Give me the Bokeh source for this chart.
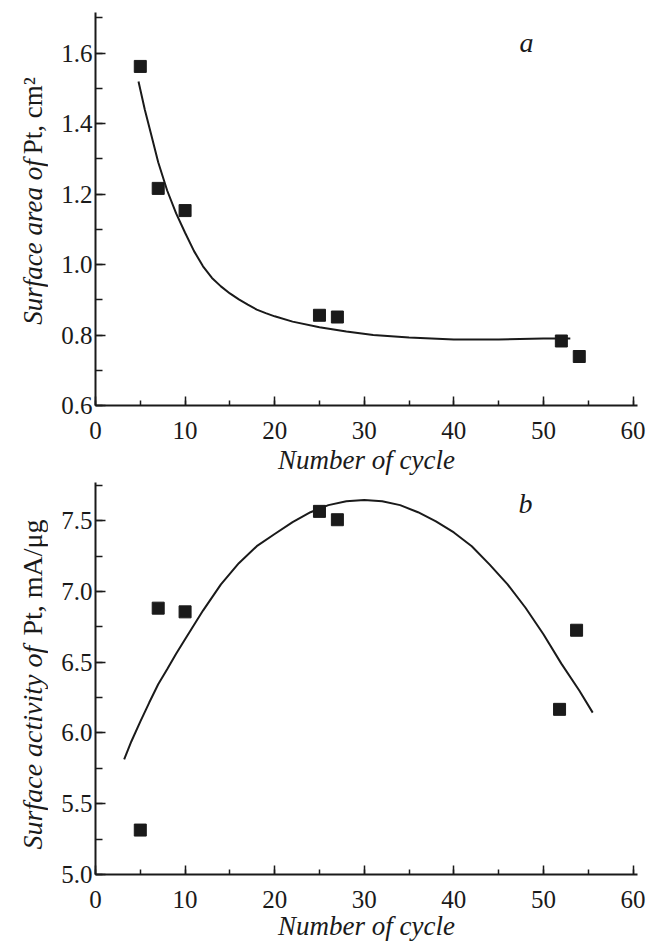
import math
from bokeh.plotting import figure
from bokeh.layouts import column, row
from bokeh.models import Range1d, SingleIntervalTicker, PrintfTickFormatter, Label
from bokeh.core.properties import value
from bokeh.embed import file_html
from bokeh.resources import INLINE

# ---------------- data ----------------
# Panel a: surface area of Pt
cycles_a = [5, 7, 10, 25, 27, 52, 54]
area_a = [1.562, 1.216, 1.153, 0.856, 0.851, 0.783, 0.739]
fit_a_x = [4.8, 5.5, 6.2, 7.0, 8.0, 9.0, 10.0, 11.0, 12.0, 13.0, 14.0, 15.0, 16.0, 17.0,
           18.0, 19.0, 20.0, 22.0, 25.0, 28.0, 31.0, 35.0, 40.0, 45.0, 50.0, 53.0]
fit_a_y = [1.519, 1.440, 1.370, 1.290, 1.210, 1.145, 1.090, 1.038, 0.995, 0.962, 0.938,
           0.918, 0.901, 0.886, 0.872, 0.862, 0.853, 0.838, 0.822, 0.810, 0.800, 0.793,
           0.787, 0.787, 0.790, 0.790]

# Panel b: surface activity of Pt
cycles_b = [5, 7, 10, 25, 27, 51.8, 53.7]
activity_b = [5.314, 6.882, 6.856, 7.566, 7.507, 6.167, 6.726]
fit_b_x = [3.2, 4, 5, 6, 7, 8, 9, 10, 12, 14, 16, 18, 20, 22, 24, 26, 28, 30, 32, 34, 36,
           38, 40, 42, 44, 46, 48, 50, 52, 54, 55.5]
fit_b_y = [5.814, 5.94, 6.08, 6.215, 6.344, 6.45, 6.56, 6.663, 6.865, 7.05, 7.20, 7.32,
           7.406, 7.49, 7.56, 7.61, 7.638, 7.646, 7.638, 7.61, 7.56, 7.495, 7.417, 7.32,
           7.19, 7.05, 6.885, 6.698, 6.49, 6.30, 6.144]

x_label = "Number of cycle"
y_label_a = ["Surface area of", "Pt, cm\u00b2"]
y_label_b = ["Surface activity of", "Pt, mA/\u03bcg"]
panel_tags = ["a", "b"]

INK = "#1a1a1a"
FONT = "Liberation Serif"


def style(p, y_interval, title_standoff):
    p.grid.visible = False
    p.outline_line_color = None
    p.xaxis.ticker = SingleIntervalTicker(interval=10, num_minor_ticks=2)
    p.yaxis.ticker = SingleIntervalTicker(interval=y_interval, num_minor_ticks=2)
    p.xaxis.formatter = PrintfTickFormatter(format="%d")
    p.yaxis.formatter = PrintfTickFormatter(format="%.1f")
    for ax in (p.xaxis, p.yaxis):
        ax.axis_line_width = 2
        ax.axis_line_color = INK
        ax.major_tick_out = 0
        ax.minor_tick_out = 0
        ax.major_tick_line_width = 1.5
        ax.minor_tick_line_width = 1.5
        ax.major_tick_line_color = INK
        ax.minor_tick_line_color = INK
        ax.major_label_text_font = FONT
        ax.major_label_text_font_size = "25px"
        ax.major_label_text_color = INK
    p.xaxis.major_tick_in = 9
    p.xaxis.minor_tick_in = 5
    p.yaxis.major_tick_in = 10
    p.yaxis.minor_tick_in = 7
    p.xaxis.major_label_standoff = 16
    p.yaxis.major_label_standoff = 3
    p.xaxis.axis_label = x_label
    p.xaxis.axis_label_text_font = FONT
    p.xaxis.axis_label_text_font_style = "italic"
    p.xaxis.axis_label_text_font_size = "27px"
    p.xaxis.axis_label_text_color = INK
    p.xaxis.axis_label_standoff = title_standoff


def y_strip(height, texts, split, gap, size):
    s = figure(width=48, height=height, x_range=Range1d(0, 48), y_range=Range1d(0, height),
               output_backend="svg", toolbar_location=None,
               x_axis_location=None, y_axis_location=None,
               min_border_left=0, min_border_right=0, min_border_top=0, min_border_bottom=0)
    s.grid.visible = False
    s.outline_line_color = None
    s.text(x=[32], y=[split], text=[texts[0]], angle=math.pi / 2,
           text_font=value(FONT), text_font_style="italic", text_font_size=size,
           text_color=INK, text_align="right", text_baseline="alphabetic")
    s.text(x=[32], y=[split + gap], text=[texts[1]], angle=math.pi / 2,
           text_font=value(FONT), text_font_style="normal", text_font_size=size,
           text_color=INK, text_align="left", text_baseline="alphabetic")
    return s


pa = figure(width=603, height=482, x_range=Range1d(0, 60.5), y_range=Range1d(0.6, 1.715),
            output_backend="svg", toolbar_location=None,
            min_border_left=47, min_border_right=14, min_border_top=12, min_border_bottom=77)
style(pa, 0.2, 3)
pa.line(fit_a_x, fit_a_y, line_width=2, line_color=INK)
pa.scatter(cycles_a, area_a, marker="square", size=12, fill_color=INK, line_color=INK)
pa.add_layout(Label(x=48.1, y=1.63, text=panel_tags[0], text_font=FONT,
                    text_font_style="italic", text_font_size="28px", text_color=INK,
                    text_align="center", text_baseline="alphabetic"))
la = y_strip(482, y_label_a, 302, 6, "27px")

pb = figure(width=603, height=461, x_range=Range1d(0, 60.5), y_range=Range1d(5.0, 7.77),
            output_backend="svg", toolbar_location=None,
            min_border_left=47, min_border_right=14, min_border_top=0, min_border_bottom=69)
style(pb, 0.5, 0)
pb.line(fit_b_x, fit_b_y, line_width=2, line_color=INK)
pb.scatter(cycles_b, activity_b, marker="square", size=12, fill_color=INK, line_color=INK)
pb.add_layout(Label(x=48.0, y=7.62, text=panel_tags[1], text_font=FONT,
                    text_font_style="italic", text_font_size="28px", text_color=INK,
                    text_align="center", text_baseline="alphabetic"))
lb = y_strip(461, y_label_b, 269, 12, "28px")

layout = column(row(la, pa), row(lb, pb))
open("out.html", "w").write(file_html(layout, INLINE))
